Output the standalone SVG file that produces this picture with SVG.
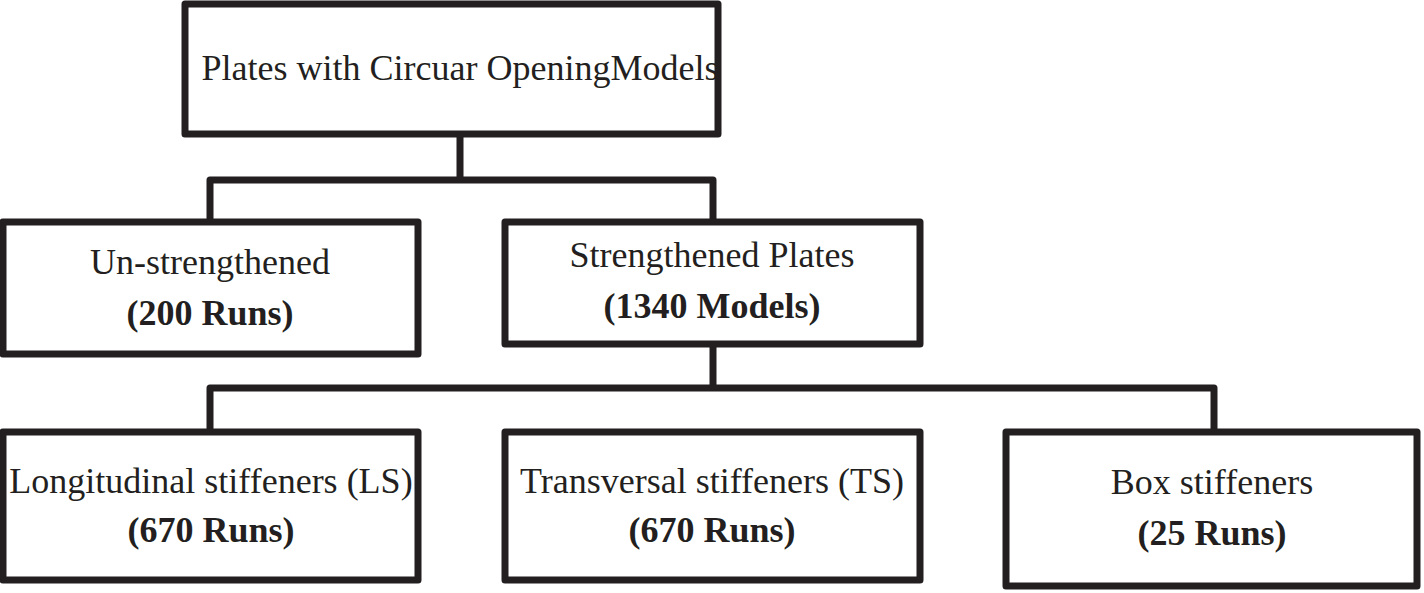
<svg xmlns="http://www.w3.org/2000/svg" width="1424" height="593" viewBox="0 0 1424 593">
<style>
.box{fill:#fff;stroke:#231f20;stroke-width:7;stroke-linejoin:round}
.conn{fill:none;stroke:#231f20;stroke-width:7;stroke-linejoin:round}
.t{font-family:"Liberation Serif","Times New Roman",serif;font-size:36px;fill:#231f20;text-anchor:middle}
.b{font-weight:bold}
</style>
<rect width="1424" height="593" fill="#fff"/>
<g id="connectors">
<path class="conn" d="M460 134 V180 M210 222 V180 H713 V222"/>
<path class="conn" d="M713 344 V388 M210 432 V388 H1214 V432"/>
</g>
<g id="root">
<rect class="box" x="185" y="4" width="533" height="130"/>
<text class="t" x="460" y="80">Plates with Circuar OpeningModels</text>
</g>
<g id="unstrengthened">
<rect class="box" x="3" y="222" width="415" height="132"/>
<text class="t" x="210" y="274">Un-strengthened</text>
<text class="t b" x="210" y="325">(200 Runs)</text>
</g>
<g id="strengthened">
<rect class="box" x="505" y="222" width="415" height="122"/>
<text class="t" x="712" y="267">Strengthened Plates</text>
<text class="t b" x="712" y="318">(1340 Models)</text>
</g>
<g id="ls">
<rect class="box" x="3" y="432" width="415" height="148"/>
<text class="t" x="211" y="493">Longitudinal stiffeners (LS)</text>
<text class="t b" x="211" y="542">(670 Runs)</text>
</g>
<g id="ts">
<rect class="box" x="505" y="432" width="415" height="148"/>
<text class="t" x="712" y="493">Transversal stiffeners (TS)</text>
<text class="t b" x="712" y="542">(670 Runs)</text>
</g>
<g id="boxst">
<rect class="box" x="1006" y="432" width="411" height="154"/>
<text class="t" x="1212" y="494">Box stiffeners</text>
<text class="t b" x="1212" y="545">(25 Runs)</text>
</g>
</svg>
